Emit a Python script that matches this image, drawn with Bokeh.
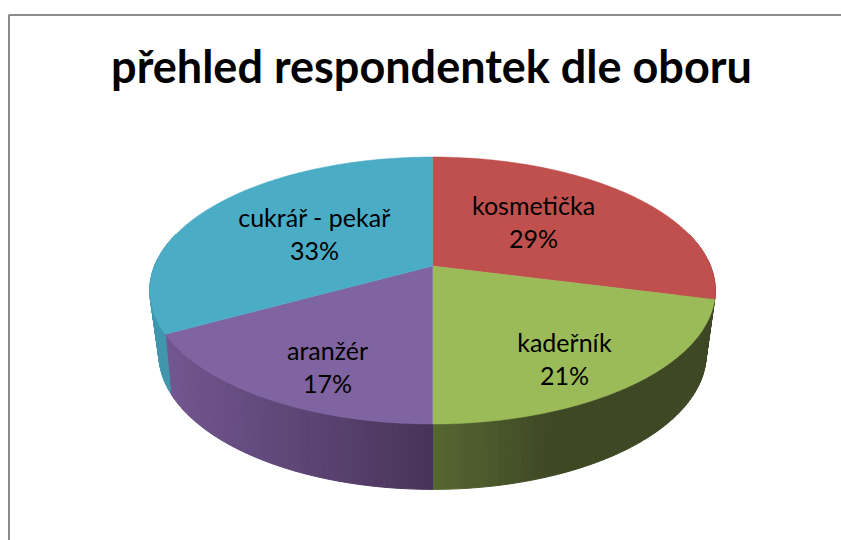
import numpy as np
from bokeh.plotting import figure
from bokeh.models import ColumnDataSource, Range1d
from bokeh.core.properties import value
from bokeh.embed import file_html
from bokeh.resources import INLINE

# data
title_text = "přehled respondentek dle oboru"
categories = ["kosmetička", "kadeřník", "aranžér", "cukrář - pekař"]
percent = [29, 21, 17, 33]
colors = ["#C0504D", "#9BBB59", "#8064A2", "#4BACC6"]
side_left = [(150, 62, 60), (86, 103, 50), (114, 86, 144), (64, 150, 174)]
side_right = [(150, 62, 60), (62, 72, 36), (72, 52, 90), (64, 150, 174)]

# label anchors (px)
label_x = [533, 564, 327, 314]
label_y = [204, 341, 349, 216]
pct_dy = 33

FONT = "Lato"
W, H = 841, 540
p = figure(width=W, height=H, output_backend="svg", toolbar_location=None,
           x_range=Range1d(0, W), y_range=Range1d(H, 0),
           min_border=0, min_border_left=0, min_border_right=0,
           min_border_top=0, min_border_bottom=0,
           x_axis_type="linear", background_fill_color="white", border_fill_color="white")
p.axis.visible = False
p.grid.visible = False
p.outline_line_color = None

# frame
p.line([8.5, 8.5, 841], [540, 14.5, 14.5], line_color="#8c8c8c", line_width=2)

cx = 432.0


def rim(t, a, b, cy, k):
    u, v = np.sin(t), np.cos(t)
    w = 1 + k * v
    return cx + a * u / w, cy - b * v / w


top = dict(a=278.0, b=129.0, cy=265.5, k=0.1835)
bot = dict(a=267.0, b=129.0, cy=323.5, k=0.22)

fr = np.array(percent, float) / sum(percent)
edges = np.concatenate([[0], np.cumsum(fr)]) * 2 * np.pi

# side walls, split into thin strips for the shading
xs, ys, cs = [], [], []
for i in range(len(percent)):
    t0, t1 = edges[i], edges[i + 1]
    t0c, t1c = max(t0, np.radians(75)), min(t1, np.radians(285))
    if t1c <= t0c:
        continue
    n = max(4, int((t1c - t0c) / np.radians(1.0)))
    ts = np.linspace(t0c, t1c, n + 1)
    xmid = rim(ts, **top)[0]
    lo, hi = xmid.min(), xmid.max()
    for j in range(n):
        tt = np.array([ts[j], ts[j + 1]])
        xa, ya = rim(tt, **top)
        xb, yb = rim(tt, **bot)
        xs.append(list(xa) + list(xb[::-1]))
        ys.append(list(ya) + list(yb[::-1]))
        f = ((xa[0] + xa[1]) / 2 - lo) / max(hi - lo, 1)
        if i == 1:
            f = min(1.0, f / 0.42)
        c = [int(round(side_left[i][q] + (side_right[i][q] - side_left[i][q]) * f)) for q in range(3)]
        cs.append("#%02x%02x%02x" % tuple(c))
side = ColumnDataSource(dict(x=xs, y=ys, c=cs))
p.patches("x", "y", source=side, fill_color="c", line_color="c", line_width=1)

# top wedges
wx, wy = [], []
for i in range(len(percent)):
    ts = np.linspace(edges[i], edges[i + 1], 120)
    x, y = rim(ts, **top)
    wx.append([cx] + list(x))
    wy.append([top["cy"]] + list(y))
p.patches(wx, wy, fill_color=colors, line_color=colors, line_width=0.5)

# labels
p.text(label_x, label_y, text=categories, text_align="center", text_baseline="middle",
       text_font=value(FONT), text_font_size="25px", text_color="black")
p.text(label_x, [y + pct_dy for y in label_y], text=[f"{v}%" for v in percent],
       text_align="center", text_baseline="middle",
       text_font=value(FONT), text_font_size="25px", text_color="black")
p.text([431], [65], text=[title_text], text_align="center", text_baseline="middle",
       text_font=value(FONT), text_font_style="bold", text_font_size="45px", text_color="black")

open("out.html", "w").write(file_html(p, INLINE))
